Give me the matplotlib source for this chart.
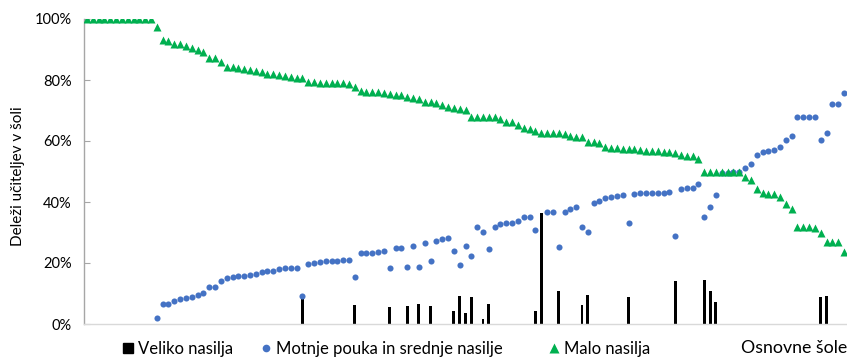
import numpy as np
import matplotlib.pyplot as plt
from matplotlib.ticker import PercentFormatter
from matplotlib.lines import Line2D
from matplotlib.patches import Patch

plt.rcParams["font.family"] = ["Lato", "DejaVu Sans"]

# shares of teachers per school (%), schools sorted by "Malo nasilja"
malo = [100] * 12 + [
    97.5, 93.0, 92.8, 91.7, 91.7, 91.2, 90.6, 89.8, 89.3, 87.3,
    87.3, 85.8, 84.4, 84.1, 83.8, 83.6, 83.3, 83.0, 82.5, 82.0,
    82.0, 81.6, 81.4, 81.1, 80.8, 80.5, 79.4, 79.2, 78.9, 78.9,
    78.9, 78.9, 78.9, 78.6, 77.8, 76.4, 76.2, 76.2, 76.2, 75.6,
    75.3, 75.1, 75.1, 74.5, 74.2, 73.8, 72.9, 72.7, 72.3, 71.8,
    71.3, 70.9, 70.5, 70.2, 68.0, 68.0, 68.0, 68.0, 68.0, 67.2,
    66.3, 66.3, 65.2, 64.2, 63.9, 63.4, 62.7, 62.7, 62.7, 62.5,
    62.3, 61.6, 61.2, 61.2, 59.8, 59.8, 59.2, 58.1, 57.8, 57.6,
    57.4, 57.3, 57.3, 57.0, 56.8, 56.8, 56.7, 56.5, 56.3, 56.0,
    55.4, 55.2, 55.2, 54.0, 50.0, 50.0, 50.0, 50.0, 50.0, 50.0,
    50.0, 48.3, 47.2, 44.2, 42.8, 42.6, 42.6, 41.7, 39.3, 37.7,
    31.9, 31.9, 31.9, 31.4, 29.7, 27.0, 27.0, 27.0, 23.7,
]

srednje = [np.nan] * 12 + [
    1.9, 6.6, 6.6, 7.6, 8.1, 8.4, 8.8, 9.4, 10.1, 12.0,
    12.0, 14.1, 15.1, 15.4, 15.8, 15.8, 16.0, 16.4, 17.0, 17.5,
    17.5, 18.1, 18.2, 18.4, 18.5, 9.2, 19.7, 20.1, 20.4, 20.8,
    20.8, 20.8, 21.0, 21.0, 15.5, 23.4, 23.4, 23.4, 23.7, 24.0,
    18.3, 24.8, 24.8, 18.8, 25.7, 18.8, 26.7, 20.8, 27.3, 27.9,
    28.3, 24.0, 19.3, 25.7, 22.4, 31.7, 30.1, 24.7, 31.9, 32.7,
    33.2, 33.2, 33.9, 35.2, 35.2, 30.9, np.nan, 36.6, 36.8, 25.3,
    36.8, 37.8, 38.3, 31.7, 30.1, 39.8, 40.3, 41.2, 41.5, 42.0,
    42.3, 33.2, 42.6, 42.9, 42.9, 42.9, 43.0, 43.0, 43.4, 29.0,
    44.2, 44.5, 44.5, 45.8, 35.0, 38.5, 42.2, 49.5, 49.5, 49.8,
    50.0, 51.3, 52.4, 55.4, 56.5, 56.8, 57.0, 57.9, 60.3, 61.6,
    67.8, 67.8, 67.8, 67.8, 60.3, 62.7, 72.1, 72.1, 75.6,
]

# "Veliko nasilja": school number (1-based) -> share
veliko_schools = [38, 47, 53, 56, 58, 60, 64, 65, 66, 67, 69, 70, 78, 79,
                  82, 86, 87, 94, 102, 107, 108, 109, 127, 128]
veliko_values = [8.4, 6.2, 5.7, 6.0, 6.4, 6.0, 4.3, 9.3, 3.5, 8.8, 1.5, 6.6, 4.4, 36.3,
                 10.9, 6.3, 9.5, 8.7, 14.0, 14.4, 10.8, 7.2, 8.9, 9.2]

n = len(malo)
x = np.arange(n)
veliko = np.zeros(n)
veliko[np.array(veliko_schools) - 1] = veliko_values

GREEN = "#00B050"
BLUE = "#4472C4"

fig = plt.figure(figsize=(8.47, 3.58), dpi=100)
ax = fig.add_axes([84 / 847, 34 / 358, 763 / 847, 305 / 358])

ax.bar(x, veliko / 100, width=0.5, color="black", zorder=2)
ax.plot(x, np.array(srednje) / 100, "o", color=BLUE, ms=4.4, mec="none", zorder=3)
ax.plot(x, np.array(malo) / 100, "^", color=GREEN, ms=5.2, mec="none", zorder=4)

ax.set_xlim(-0.5, n - 0.5)
ax.set_ylim(0, 1)
ax.set_yticks(np.arange(0, 1.01, 0.2))
ax.yaxis.set_major_formatter(PercentFormatter(1.0, decimals=0))
ax.set_xticks([])
ax.tick_params(axis="y", direction="in", length=4, color="#A6A6A6", labelsize=10.5, pad=9)
for side in ["top", "right"]:
    ax.spines[side].set_visible(False)
ax.spines["left"].set_color("#A6A6A6")
ax.spines["bottom"].set_color("#D9D9D9")
ax.spines["left"].set_linewidth(1.0)
ax.spines["bottom"].set_linewidth(1.0)
ax.patch.set_alpha(0)

fig.text(18 / 847, 1 - 176 / 358, "Deleži učiteljev v šoli", rotation=90,
         ha="center", va="center", fontsize=11)
fig.text(847 / 847, 1 - 348 / 358, "Osnovne šole", ha="right", va="center", fontsize=12.8)

# legend entries placed one by one to match the original spacing
entries = [
    (Patch(color="black"), "Veliko nasilja", 123),
    (Line2D([], [], marker="o", ls="none", color=BLUE, ms=5.5, mec="none"),
     "Motnje pouka in srednje nasilje", 261),
    (Line2D([], [], marker="^", ls="none", color=GREEN, ms=6.5, mec="none"), "Malo nasilja", 549),
]
for handle, label, xpos in entries:
    fig.legend([handle], [label], loc="center left",
               bbox_to_anchor=(xpos / 847, 1 - 349 / 358), frameon=False, fontsize=12,
               handlelength=0.6, handleheight=0.6, handletextpad=0.3,
               borderaxespad=0, borderpad=0)

fig.savefig("out.png", dpi=100)
